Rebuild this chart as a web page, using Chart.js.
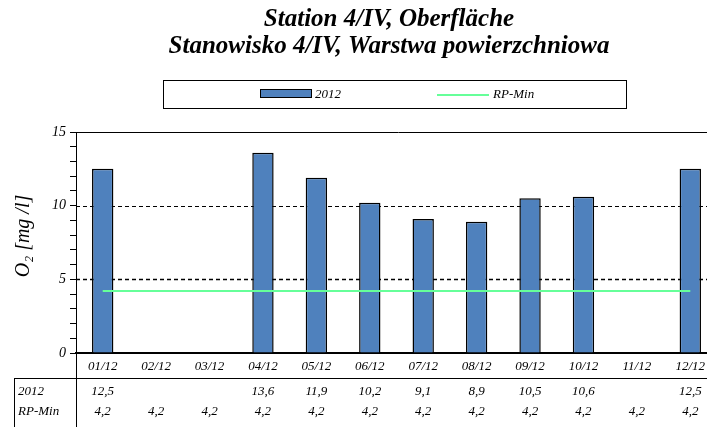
<!DOCTYPE html>
<html>
<head>
<meta charset="utf-8">
<script src="https://cdn.jsdelivr.net/npm/chart.js@4/dist/chart.umd.min.js"></script>
<style>
  html, body { margin: 0; padding: 0; background: #fff; overflow: hidden; }
  canvas { display: block; }
</style>
</head>
<body>
<canvas id="chart" width="720" height="427"></canvas>
<script>
const months = ['01/12', '02/12', '03/12', '04/12', '05/12', '06/12', '07/12', '08/12', '09/12', '10/12', '11/12', '12/12'];
const values2012 = [12.5, null, null, 13.6, 11.9, 10.2, 9.1, 8.9, 10.5, 10.6, null, 12.5];
const rpMin = [4.2, 4.2, 4.2, 4.2, 4.2, 4.2, 4.2, 4.2, 4.2, 4.2, 4.2, 4.2];
const yTicksMajor = [0, 5, 10, 15];
const titleLines = ['Station 4/IV, Oberfläche', 'Stanowisko 4/IV, Warstwa powierzchniowa'];

const SERIF = '"Liberation Serif", "Times New Roman", serif';
const fmt = v => (v === null ? '' : v.toFixed(1).replace('.', ','));

// grid lines, title, legend, table and axis title
const decorations = {
    id: 'decorations',
    beforeDatasetsDraw(chart) {
        const { ctx, chartArea: a, scales: { y } } = chart;
        ctx.save();
        ctx.strokeStyle = '#000';
        // dashed major gridlines
        [5, 10].forEach(v => {
            const py = Math.round(y.getPixelForValue(v)) + 0.5;
            ctx.lineWidth = v === 5 ? 1.5 : 1;
            ctx.setLineDash([4, 3]);
            ctx.beginPath();
            ctx.moveTo(a.left, py);
            ctx.lineTo(a.right, py);
            ctx.stroke();
        });
        ctx.setLineDash([]);
        ctx.lineWidth = 1;
        const top = Math.round(y.getPixelForValue(15)) + 0.5;
        ctx.beginPath();
        ctx.moveTo(a.left, top);
        ctx.lineTo(a.right + 5, top);
        ctx.stroke();
        ctx.restore();
    },
    afterDraw(chart) {
        const { ctx, chartArea: a, scales: { x } } = chart;
        ctx.save();
        ctx.fillStyle = '#000';
        ctx.strokeStyle = '#000';

        // title
        ctx.font = 'italic bold 25px ' + SERIF;
        ctx.textAlign = 'center';
        ctx.textBaseline = 'middle';
        ctx.fillText(titleLines[0], 389, 20);
        ctx.fillText(titleLines[1], 389, 47);

        // legend
        ctx.lineWidth = 1;
        ctx.strokeRect(163.5, 80.5, 463, 28);
        ctx.fillStyle = '#4F81BD';
        ctx.fillRect(260, 89, 52, 9);
        ctx.strokeRect(260.5, 89.5, 51, 8);
        ctx.strokeStyle = '#66FF99';
        ctx.lineWidth = 2;
        ctx.beginPath();
        ctx.moveTo(437, 95);
        ctx.lineTo(489, 95);
        ctx.stroke();
        ctx.fillStyle = '#000';
        ctx.font = 'italic 13px ' + SERIF;
        ctx.textAlign = 'left';
        ctx.fillText('2012', 315, 95);
        ctx.fillText('RP-Min', 493, 95);

        // y axis title
        ctx.save();
        ctx.translate(24, 236);
        ctx.rotate(-Math.PI / 2);
        ctx.font = 'italic 20px ' + SERIF;
        ctx.textAlign = 'center';
        ctx.fillText('O\u2082 [mg /l]', 0, 0);
        ctx.restore();

        // data table
        ctx.strokeStyle = '#000';
        ctx.lineWidth = 1;
        ctx.beginPath();
        ctx.moveTo(14, 378.5);
        ctx.lineTo(chart.width, 378.5);
        ctx.moveTo(a.left + 0.5, a.bottom);
        ctx.lineTo(a.left + 0.5, chart.height);
        ctx.moveTo(14.5, 378);
        ctx.lineTo(14.5, chart.height);
        ctx.stroke();

        ctx.font = 'italic 13px ' + SERIF;
        ctx.textAlign = 'left';
        ctx.fillText('2012', 18, 392);
        ctx.fillText('RP-Min', 18, 412);
        ctx.textAlign = 'center';
        months.forEach((m, i) => {
            const px = x.getPixelForValue(i);
            ctx.fillText(fmt(values2012[i]), px, 392);
            ctx.fillText(fmt(rpMin[i]), px, 412);
        });
        ctx.restore();
    }
};

new Chart(document.getElementById('chart'), {
    data: {
        labels: months,
        datasets: [{
            type: 'line',
            label: 'RP-Min',
            data: rpMin,
            borderColor: '#66FF99',
            borderWidth: 2,
            pointRadius: 0,
            order: 0
        }, {
            type: 'bar',
            label: '2012',
            data: values2012,
            backgroundColor: '#4F81BD',
            borderColor: '#000',
            borderWidth: 1.5,
            barPercentage: 0.4,
            categoryPercentage: 1,
            order: 1
        }]
    },
    options: {
        responsive: false,
        animation: false,
        devicePixelRatio: 1,
        layout: { padding: { top: 132, left: 0, right: 3, bottom: 0 } },
        plugins: {
            legend: { display: false },
            title: { display: false },
            tooltip: { enabled: false }
        },
        scales: {
            x: {
                grid: { display: true, drawOnChartArea: false, drawTicks: false },
                border: { color: '#000', width: 2 },
                ticks: { color: '#000', padding: 6, font: { family: SERIF, style: 'italic', size: 13 } },
                afterFit(scale) { scale.height = 74; }
            },
            y: {
                min: 0,
                max: 15,
                grid: { drawOnChartArea: false, drawTicks: true, tickLength: 6, color: '#000' },
                border: { color: '#000', width: 1 },
                ticks: {
                    stepSize: 1,
                    autoSkip: false,
                    color: '#000',
                    padding: 4,
                    font: { family: SERIF, style: 'italic', size: 14 },
                    callback: v => (yTicksMajor.includes(v) ? v : '')
                },
                afterFit(scale) { scale.width = 76; }
            }
        }
    },
    plugins: [decorations]
});
</script>
</body>
</html>
